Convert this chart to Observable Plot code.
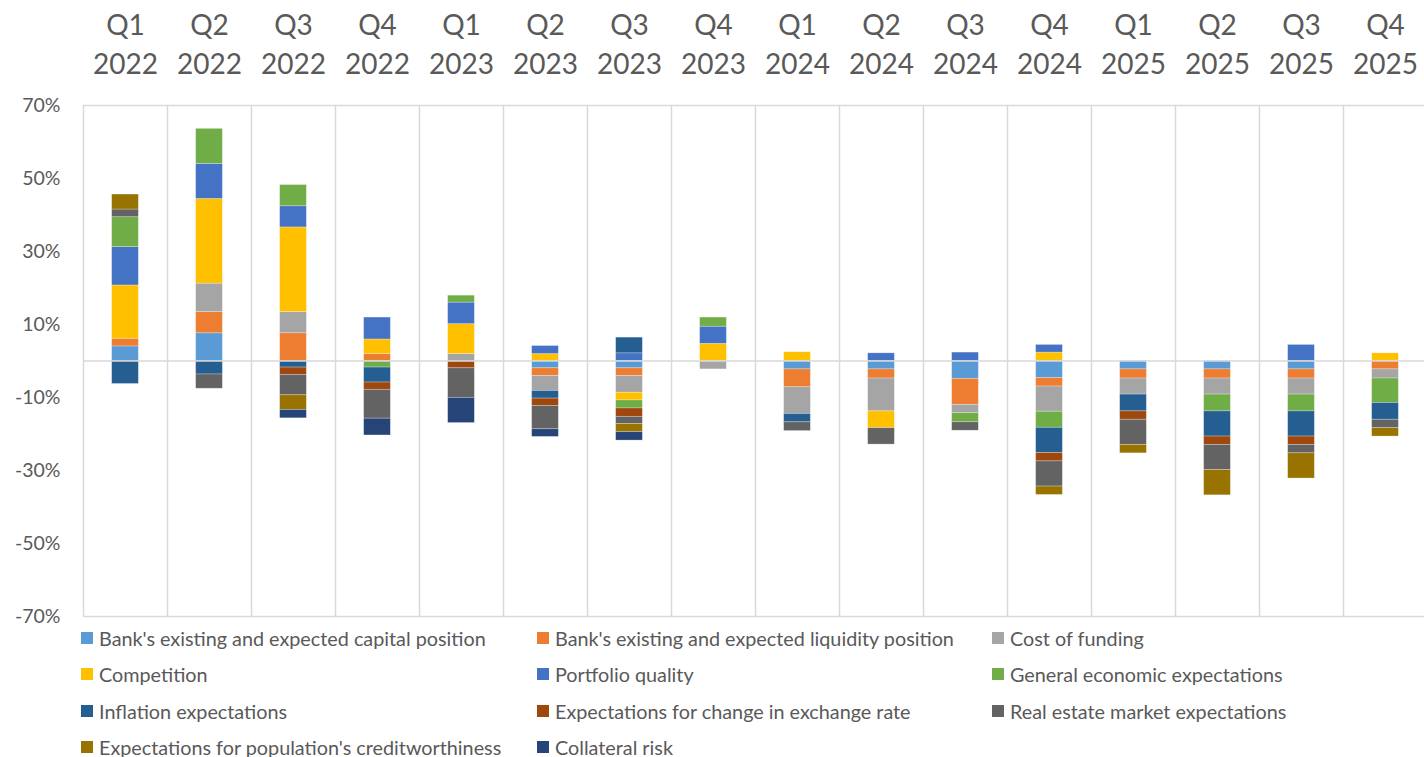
<!DOCTYPE html>
<html>
<head>
<meta charset="utf-8">
<script src="https://cdn.jsdelivr.net/npm/d3@7"></script>
<script src="https://cdn.jsdelivr.net/npm/@observablehq/plot@0.6"></script>
<style>
  body { margin: 0; background: #fff; }
  #chart { position: relative; width: 1424px; height: 757px; font-family: Lato, sans-serif; }
  #chart svg { position: absolute; left: 0; top: 0; }
  .item { position: absolute; display: flex; align-items: center; height: 26px;
          font-size: 19.8px; color: #595959; white-space: nowrap; }
  .sw { width: 12px; height: 12px; margin-right: 6px; flex: none; }
</style>
</head>
<body>
<div id="chart"></div>
<script>
// Quarters shown along the top axis
const quarters = [
  "Q1 2022", "Q2 2022", "Q3 2022", "Q4 2022",
  "Q1 2023", "Q2 2023", "Q3 2023", "Q4 2023",
  "Q1 2024", "Q2 2024", "Q3 2024", "Q4 2024",
  "Q1 2025", "Q2 2025", "Q3 2025", "Q4 2025"
];

// Factors, in stacking / legend order
const seriesNames = [
  "Bank's existing and expected capital position",
  "Bank's existing and expected liquidity position",
  "Cost of funding",
  "Competition",
  "Portfolio quality",
  "General economic expectations",
  "Inflation expectations",
  "Expectations for change in exchange rate",
  "Real estate market expectations",
  "Expectations for population's creditworthiness",
  "Collateral risk"
];
const seriesColors = [
  "#5B9BD5", "#ED7D31", "#A5A5A5", "#FFC000", "#4472C4", "#70AD47",
  "#255E91", "#9E480E", "#636363", "#997300", "#264478"
];

// Contribution of each factor per quarter (%)
const capital       = [ 4.0,  7.6,  0.0,  0.0,  0.0, -2.0, -2.0,  0.0, -2.3, -2.3, -4.9, -4.7, -2.3, -2.3, -2.3,  0.0];
const liquidity     = [ 2.1,  5.8,  7.6,  1.9,  0.0, -2.1, -2.1,  0.0, -4.9, -2.5, -7.1, -2.3, -2.5, -2.5, -2.5, -2.3];
const costOfFunding = [ 0.0,  7.8,  5.8,  0.0,  1.9, -4.1, -4.6, -2.3, -7.3, -9.0, -2.3, -6.9, -4.4, -4.4, -4.4, -2.5];
const competition   = [14.6, 23.2, 23.2,  4.0,  8.2,  1.9, -2.1,  4.7,  2.4, -4.6,  0.0,  2.3,  0.0,  0.0,  0.0,  2.1];
const portfolio     = [10.5,  9.6,  5.8,  6.0,  5.9,  2.2,  2.1,  4.7,  0.0,  2.1,  2.3,  2.1,  0.0,  0.0,  4.4,  0.0];
const generalEcon   = [ 8.2,  9.6,  5.8, -1.8,  1.9,  0.0, -2.2,  2.5,  0.0,  0.0, -2.5, -4.4,  0.0, -4.6, -4.6, -6.7];
const inflation     = [-6.3, -3.7, -1.8, -4.1,  0.0, -2.1,  4.3,  0.0, -2.3,  0.0,  0.0, -6.9, -4.6, -6.9, -6.9, -4.6];
const exchangeRate  = [ 0.0,  0.0, -2.0, -2.0, -2.0, -2.0, -2.3,  0.0,  0.0,  0.0,  0.0, -2.3, -2.3, -2.3, -2.3,  0.0];
const realEstate    = [ 2.1, -3.9, -5.6, -7.9, -8.1, -6.4, -2.0,  0.0, -2.4, -4.5, -2.3, -6.9, -6.9, -6.9, -2.3, -2.3];
const creditworth   = [ 4.1,  0.0, -4.0,  0.0,  0.0,  0.0, -2.2,  0.0,  0.0,  0.0,  0.0, -2.3, -2.3, -6.9, -6.9, -2.3];
const collateral    = [ 0.0,  0.0, -2.3, -4.6, -6.9, -2.1, -2.3,  0.0,  0.0,  0.0,  0.0,  0.0,  0.0,  0.0,  0.0,  0.0];

const yTicks = [70, 50, 30, 10, -10, -30, -50, -70];

const seriesValues = [capital, liquidity, costOfFunding, competition, portfolio, generalEcon,
                      inflation, exchangeRate, realEstate, creditworth, collateral];

// Long table: one row per quarter × factor (zero entries dropped)
const table = quarters.flatMap((q, i) =>
  seriesNames.map((s, j) => ({quarter: q, series: s, value: seriesValues[j][i]}))
).filter(d => d.value !== 0);

// Plot frame geometry
const W = 1424, H = 617;
const left = 83, right = 1427;
const step = (right - left) / quarters.length;
const barWidth = 26.7;
const inset = (step - barWidth) / 2;
const gridColor = "#d9d9d9";

const svg = Plot.plot({
  width: W,
  height: H,
  marginTop: 105,
  marginBottom: 1,
  marginLeft: left,
  marginRight: 0,
  style: {fontFamily: "Lato, sans-serif", color: "#595959", background: "transparent", overflow: "visible"},
  x: {domain: quarters, range: [left, right], padding: 0, axis: null},
  y: {domain: [-70, 70], axis: null},
  color: {domain: seriesNames, range: seriesColors},
  marks: [
    // category separators and left edge
    Plot.ruleX(quarters, {x: d => d, dx: -step / 2, stroke: gridColor, strokeWidth: 1.5}),
    // top and bottom edges
    Plot.ruleY([70, -70], {stroke: gridColor, strokeWidth: 1.5}),
    Plot.barY(table, {
      x: "quarter", y: "value", fill: "series",
      insetLeft: inset, insetRight: inset,
      stroke: "#fff", strokeOpacity: 0.35, strokeWidth: 0.75
    }),
    Plot.ruleY([0], {stroke: gridColor, strokeWidth: 1.5}),
    Plot.axisX({
      anchor: "top", tickSize: 0, tickPadding: 32, label: null,
      tickFormat: q => q.replace(" ", "\n"),
      fontSize: 28, lineHeight: 1.36, fill: "#595959"
    }),
    Plot.axisY({
      ticks: yTicks, tickSize: 0, tickPadding: 23, label: null,
      tickFormat: d => `${d}%`, fontSize: 19.5, fill: "#595959"
    })
  ]
});

const chart = document.getElementById("chart");
chart.appendChild(svg);

// Legend: three columns, filled row by row
const legendCols = [81, 537, 992];
const legendRows = [638, 674, 711, 747];
seriesNames.forEach((name, i) => {
  const item = document.createElement("div");
  item.className = "item";
  item.style.left = legendCols[i % 3] + "px";
  item.style.top = (legendRows[Math.floor(i / 3)] - 13) + "px";
  const sw = document.createElement("span");
  sw.className = "sw";
  sw.style.background = seriesColors[i];
  const label = document.createElement("span");
  label.textContent = name;
  item.append(sw, label);
  chart.appendChild(item);
});
</script>
</body>
</html>
